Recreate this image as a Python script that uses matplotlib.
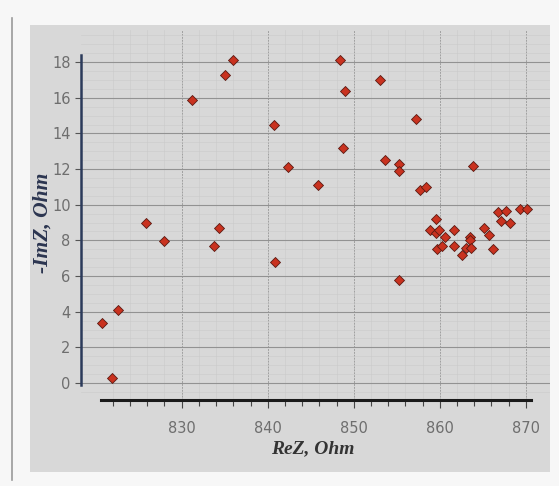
import numpy as np
import matplotlib.pyplot as plt
from matplotlib.patches import Rectangle
from matplotlib.ticker import FixedLocator, MultipleLocator

# impedance points
rez = [820.7, 821.9, 822.6, 825.9, 827.9, 831.2, 833.8, 834.3, 835.0, 836.0,
       840.7, 840.8, 842.4, 845.8, 848.4, 848.8, 849.0, 853.1, 853.6, 855.3,
       855.2, 855.2, 857.2, 857.7, 858.4, 863.8, 858.8, 859.6, 859.5, 859.9,
       860.6, 859.7, 860.3, 861.6, 861.6, 862.6, 863.0, 863.5, 863.5, 863.6,
       865.1, 865.7, 866.2, 866.7, 867.1, 867.7, 868.1, 869.3, 870.1]
imz = [3.35, 0.26, 4.1, 9.0, 7.95, 15.9, 7.7, 8.7, 17.3, 18.1,
       14.5, 6.8, 12.1, 11.1, 18.1, 13.2, 16.4, 17.0, 12.5, 12.3,
       11.9, 5.8, 14.8, 10.8, 11.0, 12.2, 8.6, 9.2, 8.4, 8.6,
       8.2, 7.5, 7.7, 8.6, 7.7, 7.2, 7.6, 8.2, 8.0, 7.6,
       8.7, 8.3, 7.5, 9.6, 9.1, 9.65, 8.95, 9.75, 9.75]

x_major = [830, 840, 850, 860, 870]
y_major = [0, 2, 4, 6, 8, 10, 12, 14, 16, 18]

W, H = 559, 486
fig = plt.figure(figsize=(W / 100, H / 100), dpi=100)
fig.patch.set_facecolor('#f7f7f7')

# background layer: grey panel of the photographed chart
bg = fig.add_axes([0, 0, 1, 1], zorder=-1)
bg.set_xlim(0, W)
bg.set_ylim(H, 0)
bg.axis('off')
bg.add_patch(Rectangle((30, 25), 520, 447, facecolor='#d8d8d8', edgecolor='none'))
bg.plot([12, 12], [18, 480], color='#9a9a9a', lw=1.2)

ax = fig.add_axes([81 / W, 1 - 400 / H, 469 / W, 370 / H])
ax.set_facecolor('none')

ax.scatter(rez, imz, marker='D', s=26, c='#c9321f', edgecolors='#5a1a12',
           linewidths=0.6, zorder=5)

ax.set_xlim(818.3, 872.8)
ax.set_ylim(-0.95, 19.8)

# grid: fine minor + darker major
ax.xaxis.set_major_locator(FixedLocator(x_major))
ax.yaxis.set_major_locator(FixedLocator(y_major))
ax.xaxis.set_minor_locator(FixedLocator(np.arange(822, 871, 2)))
ax.yaxis.set_minor_locator(MultipleLocator(0.5))
ax.grid(which='major', axis='y', color='#929292', lw=0.8)
ax.grid(which='major', axis='x', color='#a0a0a0', lw=0.7, ls=(0, (2, 1)))
ax.grid(which='minor', color='#cacaca', lw=0.4)

for s in ['top', 'right']:
    ax.spines[s].set_visible(False)
ax.spines['left'].set_bounds(-0.1, 18.4)
ax.spines['left'].set_color('#2b3a5a')
ax.spines['left'].set_linewidth(1.8)
ax.spines['bottom'].set_bounds(820.6, 870.6)
ax.spines['bottom'].set_color('#1a1a1a')
ax.spines['bottom'].set_linewidth(2.2)

ax.tick_params(axis='y', which='major', length=4, color='#555555',
               labelcolor='#6e6e6e', labelsize=10.5)
ax.tick_params(axis='y', which='minor', length=0)
ax.tick_params(axis='x', which='major', length=6, width=0.8, color='#444444',
               labelcolor='#6e6e6e', labelsize=10.5, pad=9)
ax.tick_params(axis='x', which='minor', length=4, width=0.8, color='#444444')

ax.set_xlabel('ReZ, Ohm', fontsize=14, fontweight='bold', fontstyle='italic',
              family='Liberation Serif', color='#333333')
ax.set_ylabel('-ImZ, Ohm', fontsize=15.5, fontweight='bold', fontstyle='italic',
              family='Liberation Serif', color='#2b3550')
ax.xaxis.set_label_coords(0.495, -0.108)
ax.yaxis.set_label_coords(-0.06, 0.48)

plt.savefig('out.png', dpi=100)
